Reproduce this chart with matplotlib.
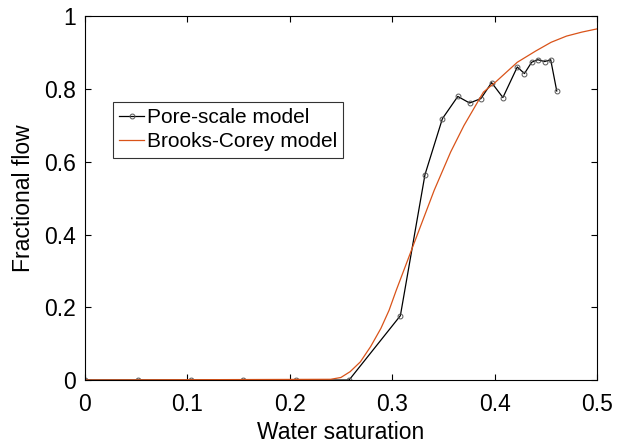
import numpy as np
import matplotlib
matplotlib.use("Agg")
import matplotlib.pyplot as plt

plt.rcParams['font.family'] = ['Liberation Sans', 'DejaVu Sans']

# pore-scale model
sw_pore = [0.0, 0.052, 0.104, 0.155, 0.206, 0.258, 0.308, 0.332, 0.349, 0.364,
           0.3755, 0.3865, 0.397, 0.408, 0.422, 0.429, 0.436, 0.442, 0.4487,
           0.4546, 0.4605]
f_pore = [0.0, 0.0, 0.0, 0.0, 0.0, 0.0, 0.177, 0.565, 0.719, 0.780,
          0.762, 0.774, 0.818, 0.777, 0.861, 0.843, 0.874, 0.881, 0.876,
          0.881, 0.795]

# Brooks-Corey model
sw_bc = [0.0, 0.24, 0.25, 0.259, 0.269, 0.279, 0.289, 0.297, 0.304, 0.32,
         0.341, 0.357, 0.37, 0.389, 0.401, 0.422, 0.44, 0.455, 0.47, 0.485, 0.5]
f_bc = [0.0, 0.002, 0.007, 0.023, 0.05, 0.092, 0.142, 0.192, 0.247, 0.366,
        0.522, 0.627, 0.7, 0.792, 0.82, 0.874, 0.905, 0.929, 0.946, 0.957, 0.966]

fig = plt.figure(figsize=(6.17, 4.45), dpi=100)
ax = fig.add_axes([0.137, 0.146, 0.831, 0.817])

ax.plot(sw_pore, f_pore, color='black', lw=0.9, marker='o', ms=3.5,
        mfc='none', mec='#555555', mew=0.7, label='Pore-scale model')
ax.plot(sw_bc, f_bc, color='#D95319', lw=0.9, label='Brooks-Corey model')

ax.set_xlim(0, 0.5)
ax.set_ylim(0, 1)
ax.set_xticks([0, 0.1, 0.2, 0.3, 0.4, 0.5])
ax.set_xticklabels(['0', '0.1', '0.2', '0.3', '0.4', '0.5'])
ax.set_yticks([0, 0.2, 0.4, 0.6, 0.8, 1])
ax.set_yticklabels(['0', '0.2', '0.4', '0.6', '0.8', '1'])
ax.tick_params(direction='in', top=True, right=True, length=4, width=0.8,
               labelsize=16.5)
ax.tick_params(axis='x', pad=9)
ax.tick_params(axis='y', pad=6)
for s in ax.spines.values():
    s.set_linewidth(0.8)

ax.set_xlabel('Water saturation', fontsize=16.5, labelpad=4)
ax.set_ylabel('Fractional flow', fontsize=16.5, labelpad=7)

leg = ax.legend(loc='upper left', bbox_to_anchor=(0.056, 0.765), fontsize=15,
                frameon=True, fancybox=False, edgecolor='black',
                handlelength=1.2, handletextpad=0.1, borderpad=0.3,
                labelspacing=0.25, borderaxespad=0)
leg.get_frame().set_linewidth(0.8)

fig.savefig('out.png', dpi=100)
